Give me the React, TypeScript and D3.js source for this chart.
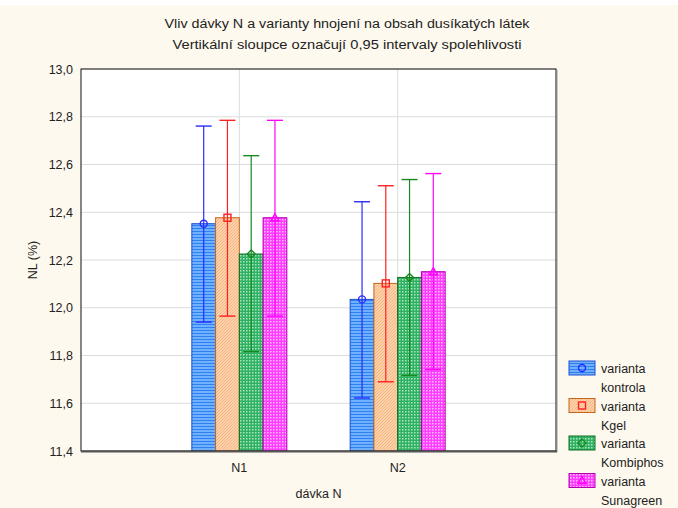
import * as d3 from "d3";

const doses = ["N1", "N2"];
const variantNames = ["kontrola", "Kgel", "Kombiphos", "Sunagreen"];
// mean, lower and upper 0.95 CI per dose, in variant order
const meanN1 = [12.352, 12.377, 12.225, 12.377];
const meanN2 = [12.035, 12.102, 12.127, 12.151];
const lowN1 = [11.94, 11.965, 11.816, 11.965];
const lowN2 = [11.622, 11.69, 11.716, 11.741];
const highN1 = [12.761, 12.785, 12.637, 12.785];
const highN2 = [12.444, 12.511, 12.537, 12.562];
const yTicks = [11.4, 11.6, 11.8, 12.0, 12.2, 12.4, 12.6, 12.8, 13.0];

const styles = [
  { pattern: "pBlue", stroke: "#1a4fd0", err: "#2a2aff", marker: "circle" },
  { pattern: "pOrange", stroke: "#c2661c", err: "#ff2020", marker: "square" },
  { pattern: "pGreen", stroke: "#0d6e22", err: "#17891f", marker: "diamond" },
  { pattern: "pMagenta", stroke: "#b000b0", err: "#ff00ff", marker: "triangle" },
];

function Marker({ kind, x, y, color }: { kind: string; x: number; y: number; color: string }) {
  if (kind === "circle") return <circle cx={x} cy={y} r={3.5} fill="none" stroke={color} strokeWidth={1.4} />;
  if (kind === "square") return <rect x={x - 3.5} y={y - 3.5} width={7} height={7} fill="none" stroke={color} strokeWidth={1.4} />;
  if (kind === "diamond")
    return <path d={`M${x},${y - 4}L${x + 4},${y}L${x},${y + 4}L${x - 4},${y}Z`} fill="none" stroke={color} strokeWidth={1.4} />;
  return <path d={`M${x},${y - 4}L${x + 4},${y + 3}L${x - 4},${y + 3}Z`} fill="none" stroke={color} strokeWidth={1.4} />;
}

export default function App() {
  const width = 678;
  const height = 508;
  const margin = { top: 69, right: 122, bottom: 57, left: 81 };
  const x = d3.scalePoint().domain(doses).range([margin.left, width - margin.right]).padding(1);
  const groupW = x.step() * 0.6;
  const xb = d3.scaleBand().domain(variantNames).range([0, groupW]).padding(0);
  const y = d3.scaleLinear().domain([11.4, 13.0]).range([height - margin.bottom, margin.top]);
  const fmt = (v: number) => d3.format(".1f")(v).replace(".", ",");
  const means = [meanN1, meanN2];
  const lows = [lowN1, lowN2];
  const highs = [highN1, highN2];
  const font = "'Liberation Sans', Arial, sans-serif";
  const bottom = height - margin.bottom;

  return (
    <svg width={width} height={height} style={{ position: "absolute", left: 0, top: 0 }} fontFamily={font}>
      <defs>
        <pattern id="pBlue" width={4} height={3} patternUnits="userSpaceOnUse">
          <rect width={4} height={3} fill="#6fb0ff" />
          <rect width={4} height={1} fill="#2f80f0" />
        </pattern>
        <pattern id="pOrange" width={3} height={3} patternUnits="userSpaceOnUse">
          <rect width={3} height={3} fill="#fdd2ab" />
          <path d="M0,3L3,0" stroke="#f3ae78" strokeWidth={0.8} />
        </pattern>
        <pattern id="pGreen" width={3} height={3} patternUnits="userSpaceOnUse">
          <rect width={3} height={3} fill="#2fb063" />
          <rect width={1.5} height={1.5} fill="#a8e6bf" />
        </pattern>
        <pattern id="pMagenta" width={3} height={3} patternUnits="userSpaceOnUse">
          <rect width={3} height={3} fill="#ff3cff" />
          <rect width={1.5} height={1.5} fill="#ffbfff" />
        </pattern>
      </defs>
      <rect width={width} height={height} fill="#fef9ee" />
      <rect width={width} height={5} fill="#ffffff" />
      <rect x={margin.left} y={margin.top} width={width - margin.left - margin.right} height={bottom - margin.top} fill="#ffffff" />
      {yTicks.map((t) => (
        <g key={t}>
          <line x1={margin.left} x2={width - margin.right} y1={y(t)} y2={y(t)} stroke="#dcdcdc" />
          <text x={73} y={y(t) + 4.5} textAnchor="end" fontSize={12.5} fill="#222">
            {fmt(t)}
          </text>
        </g>
      ))}
      {doses.map((d) => (
        <line key={d} x1={x(d)} x2={x(d)} y1={margin.top} y2={bottom} stroke="#dcdcdc" />
      ))}
      {doses.map((d, di) => {
        const gx = (x(d) ?? 0) - groupW / 2;
        return (
          <g key={d}>
            {variantNames.map((v, vi) => {
              const bx = gx + (xb(v) ?? 0);
              const cx = bx + xb.bandwidth() / 2;
              const m = means[di][vi];
              const s = styles[vi];
              return (
                <g key={v}>
                  <rect x={bx} y={y(m)} width={xb.bandwidth()} height={bottom - y(m)} fill={`url(#${s.pattern})`} stroke={s.stroke} strokeWidth={1} />
                  <line x1={cx} x2={cx} y1={y(highs[di][vi])} y2={y(lows[di][vi])} stroke={s.err} strokeWidth={1.2} />
                  <line x1={cx - 8} x2={cx + 8} y1={y(highs[di][vi])} y2={y(highs[di][vi])} stroke={s.err} strokeWidth={1.4} />
                  <line x1={cx - 8} x2={cx + 8} y1={y(lows[di][vi])} y2={y(lows[di][vi])} stroke={s.err} strokeWidth={1.4} />
                  <Marker kind={s.marker} x={cx} y={y(m)} color={s.err} />
                </g>
              );
            })}
            <text x={x(d)} y={bottom + 21} textAnchor="middle" fontSize={12.5} fill="#222">
              {d}
            </text>
          </g>
        );
      })}
      <rect x={margin.left} y={margin.top} width={width - margin.left - margin.right} height={bottom - margin.top} fill="none" stroke="#111" strokeWidth={1} />
      <line x1={width - margin.right + 1.5} x2={width - margin.right + 1.5} y1={margin.top + 1} y2={bottom + 1} stroke="#c8c8c8" />
      <line x1={margin.left} x2={width - margin.right + 1} y1={bottom + 0.5} y2={bottom + 0.5} stroke="#555" strokeWidth={2} />
      <text x={(margin.left + width - margin.right) / 2} y={498} textAnchor="middle" fontSize={12.5} fill="#222">
        dávka N
      </text>
      <text transform={`translate(37, ${(margin.top + bottom) / 2}) rotate(-90)`} textAnchor="middle" fontSize={12.5} fill="#222">
        NL (%)
      </text>
      <text x={347} y={28} textAnchor="middle" fontSize={12.5} fill="#222" textLength={365} lengthAdjust="spacingAndGlyphs">
        Vliv dávky N a varianty hnojení na obsah dusíkatých látek
      </text>
      <text x={347} y={49} textAnchor="middle" fontSize={12.5} fill="#222" textLength={349} lengthAdjust="spacingAndGlyphs">
        Vertikální sloupce označují 0,95 intervaly spolehlivosti
      </text>
      {variantNames.map((v, vi) => {
        const ly = 361 + vi * 37.5;
        const s = styles[vi];
        return (
          <g key={v}>
            <rect x={569} y={ly} width={26} height={14} fill={`url(#${s.pattern})`} stroke={s.stroke} strokeWidth={1} />
            <Marker kind={s.marker} x={582} y={ly + 7} color={s.err} />
            <text x={601} y={ly + 12} fontSize={12.5} fill="#222">
              varianta
            </text>
            <text x={601} y={ly + 31} fontSize={12.5} fill="#222">
              {v}
            </text>
          </g>
        );
      })}
    </svg>
  );
}
